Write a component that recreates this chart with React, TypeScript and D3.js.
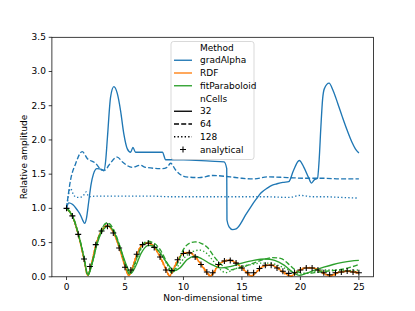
import React from "react";
import * as d3 from "d3";

const W = 415;
const H = 311;
const box = { left: 51.9, right: 373.5, top: 37.3, bottom: 276.8 };

const xTicks = [0, 5, 10, 15, 20, 25];
const yTicks = [0, 0.5, 1, 1.5, 2, 2.5, 3, 3.5];

// gradAlpha, nCells = 32 / 64 / 128  (time, amplitude)
const gradAlpha32: [number, number][] = [
  [0, 1.0], [0.2, 1.08], [0.5, 1.06], [0.9, 0.98], [1.2, 0.9], [1.4, 0.82], [1.55, 0.78],
  [1.7, 0.85], [1.9, 1.1], [2.1, 1.35], [2.3, 1.5], [2.6, 1.58], [3.0, 1.57], [3.2, 1.55],
  [3.35, 1.7], [3.5, 2.04], [3.77, 2.63], [4.05, 2.78], [4.34, 2.68], [4.62, 2.43],
  [4.9, 2.09], [5.2, 1.87], [5.48, 1.82], [5.68, 1.89], [5.9, 1.82], [7.0, 1.82],
  [8.2, 1.82], [8.48, 1.71], [10, 1.71], [12.3, 1.69], [13.47, 1.68], [13.7, 1.58],
  [13.72, 0.83], [13.9, 0.73], [14.2, 0.69], [14.5, 0.7], [14.9, 0.78], [15.3, 0.9],
  [15.75, 1.02], [16.2, 1.13], [16.6, 1.22], [17.2, 1.3], [17.6, 1.34], [18.0, 1.36],
  [18.5, 1.38], [19.0, 1.39], [19.4, 1.55], [19.9, 1.7], [20.3, 1.6], [20.7, 1.45],
  [20.95, 1.37], [21.2, 1.42], [21.46, 1.44], [21.6, 1.7], [21.75, 2.19], [21.9, 2.6],
  [22.05, 2.75], [22.45, 2.83], [22.8, 2.72], [23.2, 2.53], [23.6, 2.33], [24.0, 2.14],
  [24.4, 1.97], [24.7, 1.87], [25, 1.81],
];
const gradAlpha64: [number, number][] = [
  [0, 1.0], [0.34, 1.41], [0.77, 1.65], [1.34, 1.83], [1.77, 1.73], [2.48, 1.66],
  [3.05, 1.56], [3.3, 1.56], [3.62, 1.63], [4.34, 1.75], [4.77, 1.68], [5.62, 1.6],
  [6.3, 1.63], [6.76, 1.6], [8.2, 1.58], [8.6, 1.6], [8.9, 1.66], [9.33, 1.56],
  [10.2, 1.46], [11.33, 1.45], [12.5, 1.48], [14.0, 1.46], [15.0, 1.44], [16.0, 1.43],
  [17.2, 1.46], [18.9, 1.45], [20.5, 1.44], [22.0, 1.44], [23.5, 1.43], [25, 1.43],
];
const gradAlpha128: [number, number][] = [
  [0, 1.0], [0.34, 1.29], [0.63, 1.19], [0.91, 1.16], [1.34, 1.17], [1.69, 1.24],
  [1.9, 1.17], [2.5, 1.18], [3.5, 1.18], [5.0, 1.18], [7.0, 1.18], [9.0, 1.17],
  [11.0, 1.17], [13.0, 1.17], [15.0, 1.17], [17.0, 1.17], [19.0, 1.16], [20.0, 1.19],
  [21.0, 1.17], [22.0, 1.17], [23.5, 1.16], [25, 1.15],
];

// RDF
const rdf32: [number, number][] = [
  [0, 1], [0.5, 0.89], [1, 0.62], [1.5, 0.25], [1.8, 0.02], [2.1, 0.17], [2.5, 0.46],
  [3, 0.67], [3.5, 0.74], [4, 0.65], [4.5, 0.43], [5, 0.15], [5.3, 0.02], [5.6, 0.12],
  [6, 0.32], [6.5, 0.47], [7, 0.49], [7.5, 0.43], [8, 0.29], [8.5, 0.11], [8.8, 0.01],
  [9.1, 0.1], [9.5, 0.24], [10, 0.34], [10.5, 0.35], [11, 0.29], [11.5, 0.18], [12, 0.06],
  [12.3, 0.01], [12.6, 0.07], [13, 0.17], [13.5, 0.23], [14, 0.24], [14.5, 0.2], [15, 0.13],
  [15.5, 0.05], [15.8, 0.01], [16.1, 0.05], [16.5, 0.11], [17, 0.17], [17.5, 0.17],
  [18, 0.13], [18.5, 0.07], [19.2, 0.01], [19.6, 0.06], [20, 0.1], [20.5, 0.13], [21, 0.13],
  [21.5, 0.1], [22, 0.05], [22.6, 0.01], [23, 0.05], [23.5, 0.07], [24, 0.08], [24.5, 0.07],
  [25, 0.05],
];
const rdf64: [number, number][] = [
  [0, 1], [0.5, 0.89], [1, 0.63], [1.5, 0.26], [1.82, 0.02], [2.1, 0.16], [2.5, 0.45],
  [3, 0.67], [3.5, 0.75], [4, 0.66], [4.5, 0.44], [5, 0.16], [5.35, 0.02], [5.7, 0.14],
  [6, 0.31], [6.5, 0.47], [7, 0.5], [7.5, 0.44], [8, 0.3], [8.5, 0.12], [8.85, 0.01],
  [9.2, 0.12], [9.5, 0.23], [10, 0.34], [10.5, 0.36], [11, 0.3], [11.5, 0.19], [12, 0.07],
  [12.35, 0.01], [12.7, 0.08], [13, 0.16], [13.5, 0.23], [14, 0.24], [14.5, 0.21], [15, 0.14],
  [15.5, 0.06], [15.85, 0.01], [16.2, 0.06], [16.5, 0.11], [17, 0.16], [17.5, 0.17],
  [18, 0.14], [18.5, 0.08], [19.25, 0.01], [19.7, 0.07], [20, 0.1], [20.5, 0.13], [21, 0.13],
  [21.5, 0.11], [22, 0.06], [22.7, 0.01], [23.1, 0.05], [23.5, 0.07], [24, 0.08], [24.5, 0.08],
  [25, 0.06],
];
const rdf128: [number, number][] = [
  [0, 1], [0.5, 0.88], [1, 0.62], [1.5, 0.25], [1.8, 0.02], [2.1, 0.17], [2.5, 0.47],
  [3, 0.68], [3.5, 0.75], [4, 0.65], [4.5, 0.43], [5, 0.15], [5.3, 0.02], [5.6, 0.13],
  [6, 0.33], [6.5, 0.48], [7, 0.5], [7.5, 0.43], [8, 0.28], [8.5, 0.1], [8.8, 0.01],
  [9.1, 0.11], [9.5, 0.25], [10, 0.35], [10.5, 0.36], [11, 0.29], [11.5, 0.17], [12, 0.05],
  [12.25, 0.01], [12.6, 0.08], [13, 0.18], [13.5, 0.24], [14, 0.25], [14.5, 0.2], [15, 0.12],
  [15.5, 0.04], [15.75, 0.01], [16.1, 0.06], [16.5, 0.12], [17, 0.17], [17.5, 0.18],
  [18, 0.13], [18.5, 0.06], [19.15, 0.01], [19.6, 0.07], [20, 0.11], [20.5, 0.14], [21, 0.13],
  [21.5, 0.09], [22, 0.04], [22.55, 0.01], [23, 0.06], [23.5, 0.08], [24, 0.09], [24.5, 0.07],
  [25, 0.05],
];

// fitParaboloid
const fit32: [number, number][] = [
  [0, 1], [0.5, 0.89], [1, 0.63], [1.5, 0.28], [1.85, 0.02], [2.2, 0.2], [2.6, 0.47],
  [3, 0.65], [3.6, 0.74], [4.1, 0.64], [4.6, 0.42], [5.1, 0.18], [5.5, 0.05], [5.9, 0.15],
  [6.4, 0.35], [7, 0.46], [7.4, 0.45], [8, 0.35], [8.6, 0.2], [9.2, 0.09], [9.7, 0.13],
  [10.3, 0.25], [11, 0.3], [11.6, 0.26], [12.3, 0.19], [13.2, 0.13], [14, 0.15], [15, 0.2],
  [16, 0.24], [17, 0.26], [17.8, 0.24], [18.6, 0.17], [19.4, 0.06], [19.9, 0.02], [20.5, 0.05],
  [21.3, 0.1], [22, 0.14], [22.8, 0.18], [23.6, 0.21], [24.3, 0.23], [25, 0.24],
];
const fit64: [number, number][] = [
  [0, 1], [0.5, 0.9], [1, 0.64], [1.5, 0.28], [1.8, 0.03], [2.2, 0.22], [2.6, 0.5],
  [3, 0.7], [3.5, 0.79], [4, 0.7], [4.5, 0.48], [5, 0.2], [5.4, 0.04], [5.8, 0.18],
  [6.3, 0.4], [6.9, 0.52], [7.4, 0.5], [8, 0.4], [8.6, 0.2], [9.0, 0.06], [9.5, 0.2],
  [10, 0.4], [10.5, 0.49], [11, 0.51], [11.5, 0.49], [12.1, 0.42], [12.6, 0.3], [13.1, 0.2],
  [13.6, 0.13], [14, 0.1], [14.5, 0.12], [15.2, 0.15], [16, 0.2], [16.8, 0.25], [17.6, 0.28],
  [18.3, 0.27], [18.9, 0.2], [19.4, 0.12], [20, 0.06], [20.5, 0.05], [21.2, 0.06], [22, 0.08],
  [22.8, 0.09], [23.6, 0.11], [24.3, 0.14], [25, 0.18],
];
const fit128: [number, number][] = [
  [0, 1], [0.5, 0.89], [1, 0.63], [1.5, 0.27], [1.8, 0.03], [2.2, 0.2], [2.6, 0.48],
  [3, 0.69], [3.5, 0.78], [4, 0.68], [4.5, 0.46], [5, 0.18], [5.4, 0.04], [5.8, 0.16],
  [6.3, 0.38], [6.9, 0.5], [7.4, 0.48], [8, 0.36], [8.6, 0.18], [9.0, 0.06], [9.5, 0.15],
  [10.2, 0.3], [10.8, 0.37], [11.4, 0.39], [12, 0.34], [12.6, 0.22], [13.2, 0.1], [13.6, 0.06],
  [14.2, 0.1], [15, 0.15], [15.8, 0.18], [16.6, 0.2], [17.4, 0.2], [18.2, 0.16], [19, 0.1],
  [19.8, 0.04], [20.4, 0.05], [21.2, 0.08], [22, 0.1], [23, 0.1], [24, 0.09], [25, 0.1],
];

// analytical solution (markers)
const analytical: [number, number][] = [
  [0, 1.0], [0.5, 0.89], [1, 0.62], [1.5, 0.26], [2, 0.15], [2.5, 0.47], [3, 0.67],
  [3.5, 0.74], [4, 0.64], [4.5, 0.42], [5, 0.14], [5.5, 0.1], [6, 0.33], [6.5, 0.47],
  [7, 0.49], [7.5, 0.43], [8, 0.29], [8.5, 0.1], [9, 0.09], [9.5, 0.25], [10, 0.34],
  [10.5, 0.35], [11, 0.29], [11.5, 0.18], [12, 0.07], [12.5, 0.06], [13, 0.18], [13.5, 0.23],
  [14, 0.24], [14.5, 0.2], [15, 0.13], [15.5, 0.06], [16, 0.06], [16.5, 0.12], [17, 0.17],
  [17.5, 0.17], [18, 0.13], [18.5, 0.08], [19, 0.05], [19.5, 0.06], [20, 0.1], [20.5, 0.13],
  [21, 0.13], [21.5, 0.1], [22, 0.06], [22.5, 0.03], [23, 0.06], [23.5, 0.07], [24, 0.085],
  [24.5, 0.07], [25, 0.06],
];

const BLUE = "#1f77b4";
const ORANGE = "#ff7f0e";
const GREEN = "#2ca02c";
const LW = 1.35;
const DASH = "5 2.2";
const DOT = "1.35 2.2";

export default function App() {
  const x = d3.scaleLinear().domain([-1.25, 26.25]).range([box.left, box.right]);
  const y = d3.scaleLinear().domain([0, 3.5]).range([box.bottom, box.top]);
  const line = d3
    .line<[number, number]>()
    .x((d) => x(d[0]))
    .y((d) => y(d[1]))
    .curve(d3.curveMonotoneX);

  const series = [
    { data: gradAlpha32, color: BLUE, dash: "none" },
    { data: gradAlpha64, color: BLUE, dash: DASH },
    { data: gradAlpha128, color: BLUE, dash: DOT },
    { data: rdf32, color: ORANGE, dash: "none" },
    { data: rdf64, color: ORANGE, dash: DASH },
    { data: rdf128, color: ORANGE, dash: DOT },
    { data: fit32, color: GREEN, dash: "none" },
    { data: fit64, color: GREEN, dash: DASH },
    { data: fit128, color: GREEN, dash: DOT },
  ];

  const legendRows = [
    { label: "Method" },
    { label: "gradAlpha", color: BLUE, dash: "none" },
    { label: "RDF", color: ORANGE, dash: "none" },
    { label: "fitParaboloid", color: GREEN, dash: "none" },
    { label: "nCells" },
    { label: "32", color: "#000", dash: "none" },
    { label: "64", color: "#000", dash: DASH },
    { label: "128", color: "#000", dash: DOT },
    { label: "analytical", marker: true },
  ];

  const plus = (cx: number, cy: number, s = 3) =>
    `M${cx - s},${cy}H${cx + s}M${cx},${cy - s}V${cy + s}`;

  return (
    <svg
      width={W}
      height={H}
      style={{ position: "absolute", left: 0, top: 0, background: "#fff" }}
      fontFamily="DejaVu Sans, sans-serif"
    >
      <defs>
        <clipPath id="plot">
          <rect x={box.left} y={box.top} width={box.right - box.left} height={box.bottom - box.top} />
        </clipPath>
      </defs>
      <g clipPath="url(#plot)">
        {series.map((s, i) => (
          <path
            key={i}
            d={line(s.data) || ""}
            fill="none"
            stroke={s.color}
            strokeWidth={LW}
            strokeDasharray={s.dash}
          />
        ))}
        {analytical.map((d, i) => (
          <path key={i} d={plus(x(d[0]), y(d[1]))} stroke="#000" strokeWidth={1.05} fill="none" />
        ))}
      </g>

      {/* axes frame */}
      <rect
        x={box.left}
        y={box.top}
        width={box.right - box.left}
        height={box.bottom - box.top}
        fill="none"
        stroke="#000"
        strokeWidth={0.75}
      />
      {xTicks.map((t) => (
        <g key={t} transform={`translate(${x(t)},${box.bottom})`}>
          <line y2={3.2} stroke="#000" strokeWidth={0.75} />
          <text y={13} textAnchor="middle" fontSize={9} fill="#000">
            {t}
          </text>
        </g>
      ))}
      {yTicks.map((t) => (
        <g key={t} transform={`translate(${box.left},${y(t)})`}>
          <line x2={-3.2} stroke="#000" strokeWidth={0.75} />
          <text x={-6} dy="0.33em" textAnchor="end" fontSize={9} fill="#000">
            {t.toFixed(1)}
          </text>
        </g>
      ))}
      <text x={(box.left + box.right) / 2} y={301} textAnchor="middle" fontSize={9} fill="#000">
        Non-dimensional time
      </text>
      <text
        transform={`translate(27,${(box.top + box.bottom) / 2}) rotate(-90)`}
        textAnchor="middle"
        fontSize={9}
        fill="#000"
      >
        Relative amplitude
      </text>

      {/* legend */}
      <g>
        <rect
          x={171}
          y={41.5}
          width={83}
          height={118}
          rx={2.5}
          fill="#fff"
          fillOpacity={0.8}
          stroke="#cccccc"
          strokeWidth={0.75}
        />
        {legendRows.map((r, i) => {
          const cy = 47.5 + i * 12.75;
          return (
            <g key={r.label}>
              {r.color && (
                <line
                  x1={174}
                  x2={192}
                  y1={cy}
                  y2={cy}
                  stroke={r.color}
                  strokeWidth={LW}
                  strokeDasharray={r.dash}
                />
              )}
              {r.marker && <path d={plus(183, cy)} stroke="#000" strokeWidth={1.05} fill="none" />}
              <text x={200} y={cy} dy="0.35em" fontSize={9} fill="#000">
                {r.label}
              </text>
            </g>
          );
        })}
      </g>
    </svg>
  );
}
